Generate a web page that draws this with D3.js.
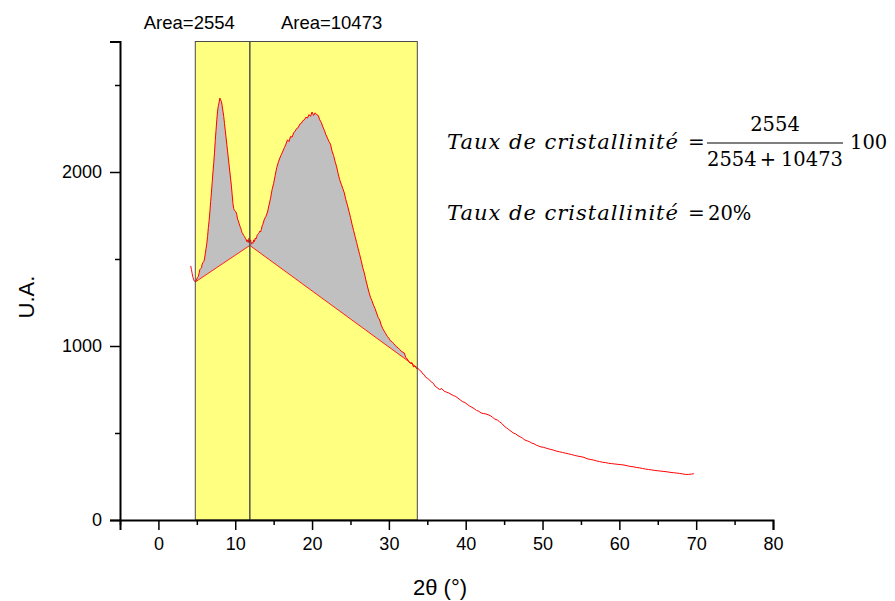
<!DOCTYPE html>
<html><head><meta charset="utf-8">
<script src="https://cdn.jsdelivr.net/npm/d3@7/dist/d3.min.js"></script>
<style>body{margin:0;background:#fff}svg{display:block}</style>
</head><body><svg id="c" width="895" height="601"></svg>
<script>
// ---- data ----
const angle = [4.2,4.3,4.4,4.5,4.6,4.7,4.8,4.9,5.0,5.1,5.2,5.3,5.4,5.5,5.6,5.7,5.8,5.9,6.0,6.1,6.2,6.3,6.4,6.5,6.6,6.7,6.8,6.9,7.0,7.1,7.2,7.3,7.4,7.5,7.6,7.7,7.8,7.9,8.0,8.1,8.2,8.3,8.4,8.5,8.6,8.7,8.8,8.9,9.0,9.1,9.2,9.3,9.4,9.5,9.6,9.7,9.8,9.9,10.0,10.1,10.2,10.3,10.4,10.5,10.6,10.7,10.8,10.9,11.0,11.1,11.2,11.3,11.4,11.5,11.6,11.7,11.8,11.9,12.0,12.1,12.2,12.3,12.4,12.5,12.6,12.7,12.8,12.9,13.0,13.1,13.2,13.3,13.4,13.5,13.6,13.8,14.0,14.2,14.4,14.6,14.8,15.0,15.2,15.4,15.6,15.8,16.0,16.2,16.4,16.6,16.8,17.0,17.2,17.4,17.6,17.8,18.0,18.2,18.4,18.6,18.8,19.0,19.2,19.4,19.6,19.8,20.0,20.2,20.4,20.6,20.8,21.0,21.2,21.4,21.6,21.8,22.0,22.2,22.4,22.6,22.8,23.0,23.2,23.4,23.6,23.8,24.0,24.2,24.4,24.6,24.8,25.0,25.2,25.4,25.6,25.8,26.0,26.2,26.4,26.6,26.8,27.0,27.2,27.4,27.6,27.8,28.0,28.2,28.4,28.6,28.8,29.0,29.2,29.4,29.6,29.8,30.0,30.2,30.4,30.6,30.8,31.0,31.2,31.4,31.6,31.8,32.0,32.2,32.4,32.6,32.8,33.0,33.2,33.4,33.6,33.8,34.0,34.2,34.4,34.6,34.8,35.0,35.2,35.5,35.8,36.0,36.3,36.6,36.9,37.2,37.5,37.8,38.1,38.4,38.7,39.0,39.3,39.6,39.9,40.2,40.5,40.8,41.1,41.4,41.7,42.0,42.3,42.6,42.9,43.2,43.5,43.8,44.1,44.4,44.7,45.0,45.3,45.6,45.9,46.2,46.5,46.8,47.1,47.4,47.7,48.0,48.3,48.6,48.9,49.2,49.5,49.8,50.1,50.4,50.7,51.0,51.4,51.8,52.2,52.6,53.0,53.4,53.8,54.2,54.6,55.0,55.4,55.8,56.2,56.6,57.0,57.4,57.8,58.2,58.6,59.0,59.4,59.8,60.2,60.6,61.0,61.4,61.8,62.2,62.6,63.0,63.4,63.8,64.2,64.6,65.0,65.4,65.8,66.2,66.6,67.0,67.4,67.8,68.2,68.6,69.0,69.4,69.7];
const intensity = [1460,1440,1415,1395,1380,1372,1368,1375,1385,1395,1400,1420,1440,1445,1450,1470,1480,1485,1500,1530,1560,1590,1630,1680,1720,1770,1830,1880,1940,2000,2050,2110,2180,2240,2300,2350,2380,2400,2425,2415,2405,2380,2350,2320,2280,2240,2200,2160,2120,2080,2040,2000,1960,1920,1870,1820,1790,1780,1775,1770,1755,1730,1720,1705,1690,1680,1665,1650,1645,1635,1630,1620,1615,1600,1610,1595,1620,1600,1610,1585,1595,1590,1610,1600,1620,1615,1630,1640,1645,1650,1660,1655,1670,1690,1700,1730,1745,1770,1810,1850,1900,1935,1980,2025,2055,2080,2100,2120,2140,2160,2185,2175,2205,2200,2225,2235,2250,2255,2275,2280,2295,2300,2315,2310,2330,2320,2345,2325,2340,2330,2325,2300,2285,2260,2240,2215,2195,2175,2160,2120,2095,2060,2030,1990,1955,1930,1905,1880,1840,1810,1775,1740,1700,1665,1630,1595,1560,1525,1490,1450,1420,1380,1345,1310,1280,1260,1235,1215,1190,1165,1150,1120,1100,1085,1070,1055,1045,1030,1025,1015,1005,995,990,980,970,965,960,935,925,910,900,905,880,885,870,872,860,855,840,835,820,815,808,795,785,770,760,750,755,740,735,730,722,715,710,700,690,680,675,665,655,648,640,630,625,615,612,610,605,600,590,580,575,565,555,540,530,520,510,500,495,485,478,470,460,455,450,442,438,430,425,420,418,414,410,406,402,396,392,388,384,380,376,371,367,364,360,352,348,345,340,336,332,330,326,324,322,320,318,316,312,308,306,302,300,296,293,290,288,285,283,281,279,277,274,272,270,268,265,262,262,264,266];
const baselineAngle = [4.8, 11.9, 33.7];
const baselineIntensity = [1368, 1578, 875];
const regions = [[4.8, 11.9], [11.9, 33.7]];
const regionLabels = ["Area=2554", "Area=10473"];
const xTicks = [0,10,20,30,40,50,60,70,80];
const xMinorTicks = [-5,5,15,25,35,45,55,65,75];
const yTicks = [0,1000,2000];
const yMinorTicks = [500,1500,2500];

// ---- chart ----
const svg = d3.select("#c");
const x = d3.scaleLinear().domain([-5, 80]).range([120, 773]);
const y = d3.scaleLinear().domain([0, 2750]).range([520, 41.5]);
const font = "Arial, 'Liberation Sans', sans-serif";

regions.forEach((r) => {
  svg.append("rect")
    .attr("x", x(r[0])).attr("y", y(2750))
    .attr("width", x(r[1]) - x(r[0])).attr("height", y(0) - y(2750))
    .attr("fill", "#ffff80").attr("stroke", "none");
});

const pts = angle.map((a, i) => [a, intensity[i]]);
const base = baselineAngle.map((a, i) => [a, baselineIntensity[i]]);
const inside = pts.filter(p => p[0] > regions[0][0] && p[0] < regions[1][1]);
const poly = [base[0], ...inside, base[2], base[1]];
const line = d3.line().x(d => x(d[0])).y(d => y(d[1]));
svg.append("path").attr("d", line(poly) + "Z").attr("fill", "#c0c0c0").attr("stroke", "none");
svg.append("path").attr("d", line(base))
  .attr("fill", "none").attr("stroke", "#ff2020").attr("stroke-width", 1);
svg.append("path").attr("d", line(pts))
  .attr("fill", "none").attr("stroke", "#ff0000").attr("stroke-width", 1).attr("stroke-linejoin", "round");

regions.forEach((r) => {
  svg.append("rect")
    .attr("x", x(r[0])).attr("y", y(2750))
    .attr("width", x(r[1]) - x(r[0])).attr("height", y(0) - y(2750))
    .attr("fill", "none").attr("stroke", "#4a4a4a").attr("stroke-width", 1);
});
svg.append("text").attr("x", x(regions[0][1]) - 15).attr("y", 29)
  .attr("text-anchor", "end").attr("font-family", font).attr("font-size", 18.5).text(regionLabels[0]);
svg.append("text").attr("x", (x(regions[1][0]) + x(regions[1][1])) / 2 - 2).attr("y", 29)
  .attr("text-anchor", "middle").attr("font-family", font).attr("font-size", 18.5).text(regionLabels[1]);

// axes
svg.append("g").attr("transform", "translate(0,520)")
  .call(d3.axisBottom(x).tickValues(xTicks).tickSize(10).tickPadding(7).tickFormat(d3.format("d")));
svg.append("g").attr("transform", "translate(0,520)")
  .call(d3.axisBottom(x).tickValues(xMinorTicks).tickSize(5).tickFormat(""))
  .select(".domain").remove();
svg.append("g").attr("transform", "translate(120,0)")
  .call(d3.axisLeft(y).tickValues(yTicks).tickSize(10).tickPadding(8).tickFormat(d3.format("d")));
svg.append("g").attr("transform", "translate(120,0)")
  .call(d3.axisLeft(y).tickValues(yMinorTicks).tickSize(5).tickFormat(""))
  .select(".domain").remove();
svg.selectAll(".domain").attr("stroke", "#000").attr("stroke-width", 2);
svg.selectAll(".tick line").attr("stroke", "#000").attr("stroke-width", 1.5);
svg.selectAll(".tick text").attr("font-family", font).attr("font-size", 18).attr("fill", "#000");

svg.append("text").attr("x", 440).attr("y", 595).attr("text-anchor", "middle")
  .attr("font-family", font).attr("font-size", 22).text("2θ (°)");
svg.append("text").attr("transform", "translate(34,297) rotate(-90)").attr("text-anchor", "middle")
  .attr("font-family", font).attr("font-size", 22).text("U.A.");

// formula
const mfont = "'DejaVu Serif', serif";
function put(txt, xx, yy, italic, anchor, size, len) {
  const t = svg.append("text").attr("x", xx).attr("y", yy)
    .attr("font-family", mfont).attr("font-size", size || 20)
    .attr("font-style", italic ? "italic" : "normal")
    .attr("text-anchor", anchor || "start").text(txt);
  if (len) t.attr("textLength", len).attr("lengthAdjust", "spacing");
  return t;
}
put("Taux de cristallinité", 447, 149, true, "start", 21, 231);
put("=", 688, 149, false, "start", 20);
svg.append("line").attr("x1", 707).attr("x2", 843).attr("y1", 143).attr("y2", 143)
  .attr("stroke", "#000").attr("stroke-width", 1.2);
put("2554", 775, 131, false, "middle", 19.5);
put("2554", 707, 166, false, "start", 19.5);
put("+", 768, 166, false, "middle", 19.5);
put("10473", 843, 166, false, "end", 19.5);
put("100", 850, 149, false, "start", 19.5);

put("Taux de cristallinité", 447, 220, true, "start", 21, 231);
put("=", 688, 220, false, "start", 20);
put("20%", 708, 220, false, "start", 19.5);
</script></body></html>
